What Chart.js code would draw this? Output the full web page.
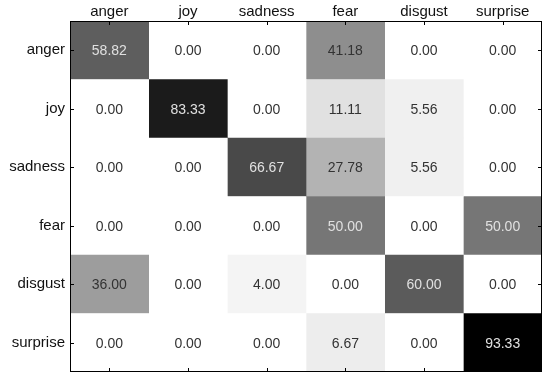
<!DOCTYPE html>
<html>
<head>
<meta charset="utf-8">
<script src="https://cdn.jsdelivr.net/npm/chart.js@4.4.0/dist/chart.umd.min.js"></script>
<style>
  html, body { margin: 0; padding: 0; background: #fff; }
  #wrap { width: 550px; height: 386px; }
</style>
</head>
<body>
<div id="wrap"><canvas id="cmChart"></canvas></div>
<script>
// confusion matrix: rows = true class, columns = predicted class
var rowLabels = ['anger', 'joy', 'sadness', 'fear', 'disgust', 'surprise'];
var colLabels = ['anger', 'joy', 'sadness', 'fear', 'disgust', 'surprise'];

var angerRow    = [58.82, 0.00, 0.00, 41.18, 0.00, 0.00];
var joyRow      = [0.00, 83.33, 0.00, 11.11, 5.56, 0.00];
var sadnessRow  = [0.00, 0.00, 66.67, 27.78, 5.56, 0.00];
var fearRow     = [0.00, 0.00, 0.00, 50.00, 0.00, 50.00];
var disgustRow  = [36.00, 0.00, 4.00, 0.00, 60.00, 0.00];
var surpriseRow = [0.00, 0.00, 0.00, 6.67, 0.00, 93.33];

var matrix = [angerRow, joyRow, sadnessRow, fearRow, disgustRow, surpriseRow];
var maxVal = 93.33;

function cellColor(v) {
	var g = Math.round(255 * (1 - v / maxVal));
	return 'rgb(' + g + ',' + g + ',' + g + ')';
}

// one dataset per predicted column, each a floating bar spanning [j, j+1]
var datasets = colLabels.map(function(c, j) {
	return {
		label: c,
		data: rowLabels.map(function() { return [j, j + 1]; }),
		values: matrix.map(function(row) { return row[j]; }),
		backgroundColor: matrix.map(function(row) { return cellColor(row[j]); }),
		borderWidth: 0,
		grouped: false,
		barPercentage: 1,
		categoryPercentage: 1
	};
});

var cellText = {
	id: 'cellText',
	afterDatasetsDraw: function(chart) {
		var ctx = chart.ctx;
		ctx.save();
		ctx.font = '14px "Liberation Sans", Arial, sans-serif';
		ctx.textAlign = 'center';
		ctx.textBaseline = 'middle';
		chart.data.datasets.forEach(function(ds, j) {
			chart.getDatasetMeta(j).data.forEach(function(bar, i) {
				var v = ds.values[i];
				var c = bar.getCenterPoint();
				ctx.fillStyle = v >= 45 ? '#e0e0e0' : '#333333';
				ctx.fillText(v.toFixed(2), c.x, c.y + 1);
			});
		});
		ctx.restore();
	}
};

var frame = {
	id: 'frame',
	afterDraw: function(chart) {
		var a = chart.chartArea;
		var ctx = chart.ctx;
		var xs = chart.scales.x, ys = chart.scales.y;
		ctx.save();
		ctx.strokeStyle = '#000';
		ctx.lineWidth = 1;
		ctx.strokeRect(Math.round(a.left) + 0.5, Math.round(a.top) + 0.5,
			Math.round(a.right - a.left) - 1, Math.round(a.bottom - a.top) - 1);
		ctx.beginPath();
		colLabels.forEach(function(c, j) {
			var x = Math.round(xs.getPixelForValue(j + 0.5)) + 0.5;
			ctx.moveTo(x, a.top); ctx.lineTo(x, a.top + 4);
			ctx.moveTo(x, a.bottom); ctx.lineTo(x, a.bottom - 4);
		});
		rowLabels.forEach(function(r, i) {
			var y = Math.round(ys.getPixelForValue(i)) + 0.5;
			ctx.moveTo(a.left, y); ctx.lineTo(a.left + 4, y);
			ctx.moveTo(a.right, y); ctx.lineTo(a.right - 4, y);
		});
		ctx.stroke();
		ctx.restore();
	}
};

var ctx = document.getElementById('cmChart').getContext('2d');
var cmChart = new Chart(ctx, {
	type: 'bar',
	data: {
		labels: rowLabels,
		datasets: datasets
	},
	options: {
		indexAxis: 'y',
		responsive: true,
		maintainAspectRatio: false,
		animation: false,
		layout: { padding: { left: 0, right: 8, top: 0, bottom: 9 } },
		plugins: {
			legend: { display: false },
			tooltip: { enabled: false }
		},
		scales: {
			x: {
				type: 'linear',
				position: 'top',
				min: 0,
				max: colLabels.length,
				grid: { display: false, drawTicks: false },
				border: { display: false },
				afterBuildTicks: function(scale) {
					scale.ticks = colLabels.map(function(c, j) { return { value: j + 0.5 }; });
				},
				afterFit: function(scale) { scale.height = 21; },
				ticks: {
					autoSkip: false,
					maxRotation: 0,
					padding: 0,
					color: '#111',
					font: { family: '"Liberation Sans", Arial, sans-serif', size: 15 },
					callback: function(v, idx) { return colLabels[idx]; }
				}
			},
			y: {
				type: 'category',
				position: 'left',
				grid: { display: false, drawTicks: false },
				border: { display: false },
				afterFit: function(scale) { scale.width = 70; },
				ticks: {
					padding: 5,
					color: '#111',
					font: { family: '"Liberation Sans", Arial, sans-serif', size: 15 }
				}
			}
		}
	},
	plugins: [cellText, frame]
});
</script>
</body>
</html>
